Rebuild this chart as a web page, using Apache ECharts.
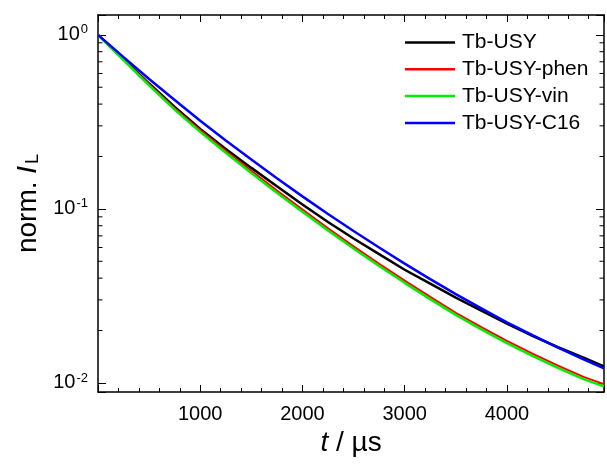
<!DOCTYPE html>
<html><head><meta charset="utf-8">
<script src="https://cdn.jsdelivr.net/npm/echarts@6/dist/echarts.min.js"></script>
<style>html,body{margin:0;padding:0;background:#fff}#c{width:607px;height:465px}</style>
</head><body><div id="c"></div>
<script>
// ---- data ----
const times = [0,250,500,750,1000,1250,1500,1750,2000,2250,2500,2750,3000,3250,3500,3750,4000,4250,4500,4750,4950];
const tbUSY     = [1.0,0.724,0.525,0.385,0.288,0.221,0.172,0.1349,0.1059,0.0841,0.0676,0.0550,0.0447,0.0372,0.0309,0.0260,0.0219,0.01862,0.01603,0.01396,0.01245];
const tbUSYphen = [1.0,0.722,0.520,0.379,0.284,0.216,0.1653,0.1275,0.0990,0.0774,0.0609,0.0484,0.0387,0.0312,0.0253,0.0209,0.01744,0.01474,0.01258,0.01083,0.00985];
const tbUSYvin  = [1.0,0.716,0.513,0.372,0.277,0.210,0.1607,0.1239,0.0962,0.0752,0.0592,0.0470,0.0376,0.0303,0.0246,0.0203,0.01694,0.01432,0.01222,0.01052,0.00955];
const tbUSYC16  = [1.0,0.745,0.558,0.422,0.321,0.247,0.192,0.150,0.118,0.0935,0.0746,0.0600,0.0485,0.0395,0.0324,0.0268,0.0223,0.0188,0.01596,0.01368,0.01213];
const seriesNames = ['Tb-USY','Tb-USY-phen','Tb-USY-vin','Tb-USY-C16'];
const xTickLabels = [1000,2000,3000,4000];
const yMinorTicks = [0.02,0.03,0.04,0.05,0.06,0.07,0.08,0.09,0.2,0.3,0.4,0.5,0.6,0.7,0.8,0.9];

const FONT = "'Liberation Sans', Arial, sans-serif";
const zip = arr => times.map((t,i)=>[t, arr[i]]);
const chart = echarts.init(document.getElementById('c'), null, {renderer:'canvas'});
const axisLine = {show:true, onZero:false, lineStyle:{color:'#000', width:1.5}};
const xCommon = {type:'value', min:0, max:4950, interval:1000, splitLine:{show:false},
  axisLine: axisLine,
  axisTick:{show:true, inside:true, length:7, lineStyle:{color:'#000', width:1}},
  minorTick:{show:true, splitNumber:5, length:4, lineStyle:{color:'#000', width:1}}};
const yCommon = {type:'log', logBase:10, min:0.00887, max:1.3, splitLine:{show:false},
  axisLine: axisLine,
  axisTick:{show:true, inside:true, length:8, lineStyle:{color:'#000', width:1}},
  minorTick:{show:false}};
const powLabel = v => {
  const e = Math.log10(v);
  if (Math.abs(e - Math.round(e)) < 1e-6) return '10{sup|' + Math.round(e) + '}';
  return '';
};
const colors = ['#000000','#ff0000','#00ee00','#0000ff'];
const data = [tbUSY, tbUSYphen, tbUSYvin, tbUSYC16];
const widths = [2.5, 2, 2.5, 2.5];

const option = {
  animation:false,
  backgroundColor:'#fff',
  grid:{left:98, top:15, right:1, bottom:73},
  legend:{
    orient:'vertical', left:405, top:32, padding:0, itemWidth:50, itemHeight:14, itemGap:5.8,
    data: seriesNames, icon:'path://M0,6 L50,6 L50,8.5 L0,8.5 Z',
    textStyle:{fontSize:21, color:'#000', fontFamily:FONT, padding:[0,0,0,2]}
  },
  xAxis:[
    Object.assign({}, xCommon, {position:'bottom',
      axisLabel:{show:true, formatter: v => xTickLabels.includes(v) ? String(v) : '', fontSize:20, color:'#000', fontFamily:FONT, margin:12},
      name:'{i|t} / µs', nameLocation:'middle', nameGap:32,
      nameTextStyle:{fontSize:28, color:'#000', fontFamily:FONT,
        rich:{i:{fontStyle:'italic', fontSize:28, color:'#000', fontFamily:FONT}}}}),
    Object.assign({}, xCommon, {position:'top', axisLabel:{show:false}})
  ],
  yAxis:[
    Object.assign({}, yCommon, {position:'left',
      axisLabel:{show:true, formatter: powLabel, fontSize:20, color:'#000', fontFamily:FONT, margin:10,
        rich:{sup:{fontSize:13, color:'#000', fontFamily:FONT, verticalAlign:'top', padding:[0,0,10,1]}}},
      name:'norm. {i|I}{sub|L}', nameLocation:'middle', nameGap:56, nameRotate:90,
      nameTextStyle:{fontSize:28, color:'#000', fontFamily:FONT, verticalAlign:'bottom',
        rich:{i:{fontStyle:'italic', fontSize:28, color:'#000', fontFamily:FONT, verticalAlign:'bottom'},
              sub:{fontSize:18, color:'#000', fontFamily:FONT, verticalAlign:'bottom', padding:[0,0,0,2]}}}}),
    Object.assign({}, yCommon, {position:'right', axisLabel:{show:false}})
  ],
  series: data.map((d,i)=>({
    type:'line', name:seriesNames[i], data:zip(d), xAxisIndex:0, yAxisIndex:0,
    symbol:'none', smooth:false, lineStyle:{color:colors[i], width:widths[i]}, itemStyle:{color:colors[i]},
    z: 2+i, clip:true
  })).concat([{
    type:'custom', name:'minorTicks', xAxisIndex:0, yAxisIndex:0, silent:true, clip:false,
    data: yMinorTicks.map(v=>[0, v]),
    renderItem:(params, api)=>{
      const y = api.coord([0, api.value(1)])[1];
      const cs = params.coordSys;
      return {type:'group', children:[
        {type:'line', shape:{x1:cs.x, y1:y, x2:cs.x+4.5, y2:y}, style:{stroke:'#000', lineWidth:1}},
        {type:'line', shape:{x1:cs.x+cs.width, y1:y, x2:cs.x+cs.width-4.5, y2:y}, style:{stroke:'#000', lineWidth:1}}
      ]};
    }
  }])
};
chart.setOption(option);
</script></body></html>
